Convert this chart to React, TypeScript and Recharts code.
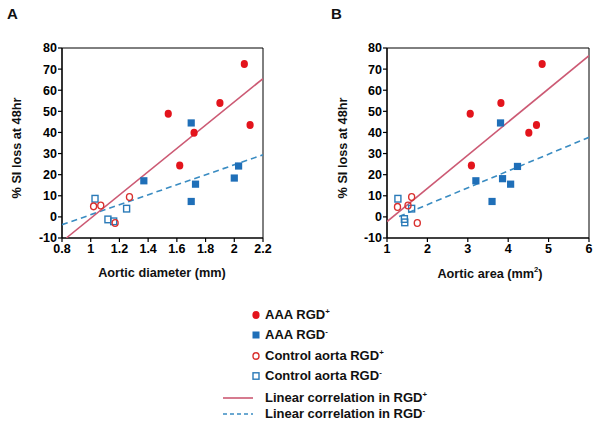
import React from 'react';
import {
  ScatterChart, Scatter, XAxis, YAxis, ReferenceLine,
} from 'recharts';

// Panel A: aortic diameter (mm) vs % SI loss
const aAaaPos = [
  { x: 1.54, y: 48.9 }, { x: 1.62, y: 24.4 }, { x: 1.72, y: 39.9 },
  { x: 1.90, y: 53.9 }, { x: 2.07, y: 72.4 }, { x: 2.11, y: 43.5 },
];
const aAaaNeg = [
  { x: 1.37, y: 17.1 }, { x: 1.70, y: 44.5 }, { x: 1.70, y: 7.3 },
  { x: 1.73, y: 15.5 }, { x: 2.00, y: 18.4 }, { x: 2.03, y: 24.1 },
];
const aCtrlPos = [
  { x: 1.02, y: 5.0 }, { x: 1.07, y: 5.4 }, { x: 1.17, y: -2.9 }, { x: 1.27, y: 9.4 },
];
const aCtrlNeg = [
  { x: 1.03, y: 8.6 }, { x: 1.12, y: -1.2 }, { x: 1.16, y: -2.1 }, { x: 1.25, y: 3.9 },
];
const aFitPos = [{ x: 0.83, y: -10 }, { x: 2.2, y: 65.5 }];
const aFitNeg = [{ x: 0.8, y: -3.7 }, { x: 2.2, y: 29.4 }];

// Panel B: aortic area (mm2) vs % SI loss
const bAaaPos = [
  { x: 3.06, y: 48.9 }, { x: 3.09, y: 24.4 }, { x: 3.82, y: 53.9 },
  { x: 4.51, y: 39.9 }, { x: 4.70, y: 43.5 }, { x: 4.84, y: 72.4 },
];
const bAaaNeg = [
  { x: 3.20, y: 17.1 }, { x: 3.60, y: 7.3 }, { x: 3.81, y: 44.5 },
  { x: 3.86, y: 18.1 }, { x: 4.06, y: 15.5 }, { x: 4.23, y: 23.9 },
];
const bCtrlPos = [
  { x: 1.26, y: 4.7 }, { x: 1.52, y: 5.4 }, { x: 1.61, y: 9.4 }, { x: 1.75, y: -2.9 },
];
const bCtrlNeg = [
  { x: 1.27, y: 8.6 }, { x: 1.43, y: -1.0 }, { x: 1.44, y: -2.6 }, { x: 1.61, y: 3.9 },
];
const bFitPos = [{ x: 1.0, y: -2.2 }, { x: 6.0, y: 76.4 }];
const bFitNeg = [{ x: 1.3, y: 0.2 }, { x: 6.0, y: 37.7 }];

const aTicks = [0.8, 1, 1.2, 1.4, 1.6, 1.8, 2, 2.2];
const bTicks = [1, 2, 3, 4, 5, 6];
const yTicks = [-10, 0, 10, 20, 30, 40, 50, 60, 70, 80];

const RED = '#e3141c';
const BLUE = '#1f6fb8';
const RED_LINE = '#cc5a74';
const BLUE_LINE = '#3a8cc2';
const FONT = '"Liberation Sans", Arial, sans-serif';

const FilledCircle = (p: any) => <ellipse cx={p.cx} cy={p.cy} rx={3.6} ry={4} fill={RED} />;
const FilledSquare = (p: any) => <rect x={p.cx - 3.6} y={p.cy - 3.6} width={7.2} height={7.2} fill={BLUE} />;
const OpenCircle = (p: any) => (
  <ellipse cx={p.cx} cy={p.cy} rx={3} ry={3.4} fill="none" stroke="#d9302e" strokeWidth={1.4} />
);
const OpenSquare = (p: any) => (
  <rect x={p.cx - 3} y={p.cy - 3.3} width={6} height={6.6} fill="none" stroke="#2a7ab8" strokeWidth={1.4} />
);
const NoDot = () => <g />;

const tickStyle = { fill: '#000', fontSize: 12.5, fontWeight: 'bold', fontFamily: FONT };

function Panel({ xDomain, xTicks, leftMargin, rightMargin, sets }: {
  xDomain: [number, number]; xTicks: number[]; leftMargin: number; rightMargin: number;
  sets: { aaaPos: any[]; aaaNeg: any[]; ctrlPos: any[]; ctrlNeg: any[]; fitPos: any[]; fitNeg: any[] };
}) {
  return (
    <ScatterChart width={300} height={260} margin={{ top: 48, right: rightMargin, bottom: 2, left: leftMargin }}>
      <XAxis type="number" dataKey="x" domain={xDomain} ticks={xTicks} allowDataOverflow
        tick={tickStyle} tickSize={4} height={20} interval={0}
        axisLine={{ stroke: '#000', strokeWidth: 1.6 }} tickLine={{ stroke: '#000', strokeWidth: 1.2 }} />
      <YAxis type="number" dataKey="y" domain={[-10, 80]} ticks={yTicks} allowDataOverflow
        tick={tickStyle} tickSize={4} tickMargin={1} width={40} interval={0}
        axisLine={{ stroke: '#000', strokeWidth: 1.6 }} tickLine={{ stroke: '#000', strokeWidth: 1.2 }} />
      <ReferenceLine y={80} stroke="#000" strokeWidth={1} />
      <ReferenceLine x={xDomain[1]} stroke="#000" strokeWidth={1} />
      <Scatter data={sets.fitNeg} fill={BLUE_LINE} shape={NoDot} isAnimationActive={false}
        line={{ stroke: BLUE_LINE, strokeWidth: 1.6, strokeDasharray: '6 4' }} />
      <Scatter data={sets.fitPos} fill={RED_LINE} shape={NoDot} isAnimationActive={false}
        line={{ stroke: RED_LINE, strokeWidth: 1.6 }} />
      <Scatter data={sets.ctrlNeg} shape={OpenSquare} isAnimationActive={false} />
      <Scatter data={sets.ctrlPos} shape={OpenCircle} isAnimationActive={false} />
      <Scatter data={sets.aaaNeg} shape={FilledSquare} isAnimationActive={false} />
      <Scatter data={sets.aaaPos} shape={FilledCircle} isAnimationActive={false} />
    </ScatterChart>
  );
}

const sup = { fontSize: '0.6em', verticalAlign: 'super' } as React.CSSProperties;

const legendRows = [
  { y: 315, marker: <ellipse cx={6} cy={6} rx={3.6} ry={4} fill={RED} />, label: 'AAA RGD', s: '+' },
  { y: 335, marker: <rect x={2.5} y={2.5} width={7} height={7} fill={BLUE} />, label: 'AAA RGD', s: '-' },
  { y: 356, marker: <ellipse cx={6} cy={6} rx={3} ry={3.3} fill="none" stroke="#d9302e" strokeWidth={1.4} />, label: 'Control aorta RGD', s: '+' },
  { y: 376, marker: <rect x={3} y={2.8} width={6} height={6.4} fill="none" stroke="#2a7ab8" strokeWidth={1.4} />, label: 'Control aorta RGD', s: '-' },
];

export default function App() {
  const label: React.CSSProperties = { position: 'absolute', fontWeight: 'bold', fontSize: 12.7, whiteSpace: 'nowrap', color: '#111' };
  return (
    <div style={{ position: 'absolute', left: 0, top: 0, width: 600, height: 425, background: '#fff', fontFamily: FONT }}>
      <div style={{ position: 'absolute', left: 0, top: 0 }}>
        <Panel xDomain={[0.8, 2.2]} xTicks={aTicks} leftMargin={22} rightMargin={37}
          sets={{ aaaPos: aAaaPos, aaaNeg: aAaaNeg, ctrlPos: aCtrlPos, ctrlNeg: aCtrlNeg, fitPos: aFitPos, fitNeg: aFitNeg }} />
      </div>
      <div style={{ position: 'absolute', left: 300, top: 0 }}>
        <Panel xDomain={[1, 6]} xTicks={bTicks} leftMargin={47} rightMargin={11}
          sets={{ aaaPos: bAaaPos, aaaNeg: bAaaNeg, ctrlPos: bCtrlPos, ctrlNeg: bCtrlNeg, fitPos: bFitPos, fitNeg: bFitNeg }} />
      </div>

      <div style={{ ...label, fontSize: 15, left: 7, top: 5 }}>A</div>
      <div style={{ ...label, fontSize: 15, left: 331, top: 5 }}>B</div>

      <div style={{ ...label, left: 17, top: 148, transform: 'translate(-50%, -50%) rotate(-90deg)' }}>% SI loss at 48hr</div>
      <div style={{ ...label, left: 343, top: 148, transform: 'translate(-50%, -50%) rotate(-90deg)' }}>% SI loss at 48hr</div>

      <div style={{ ...label, left: 162, top: 273, transform: 'translate(-50%, -50%)' }}>Aortic diameter (mm)</div>
      <div style={{ ...label, left: 490, top: 273, transform: 'translate(-50%, -50%)' }}>
        Aortic area (mm<span style={sup}>2</span>)
      </div>

      {legendRows.map((r, i) => (
        <div key={i} style={{ position: 'absolute', left: 250, top: r.y - 8, height: 16, display: 'flex', alignItems: 'center' }}>
          <svg width={12} height={12} style={{ marginRight: 3 }}>{r.marker}</svg>
          <span style={{ fontWeight: 'bold', fontSize: 13, color: '#111', whiteSpace: 'nowrap' }}>
            {r.label}<span style={sup}>{r.s}</span>
          </span>
        </div>
      ))}
      {[{ y: 398, dash: undefined, c: RED_LINE, s: '+' }, { y: 414, dash: '4 3', c: BLUE_LINE, s: '-' }].map((r, i) => (
        <div key={'l' + i} style={{ position: 'absolute', left: 222, top: r.y - 8, height: 16, display: 'flex', alignItems: 'center' }}>
          <svg width={32} height={6} style={{ marginRight: 11 }}>
            <line x1={1} y1={3} x2={31} y2={3} stroke={r.c} strokeWidth={1.6} strokeDasharray={r.dash} />
          </svg>
          <span style={{ fontWeight: 'bold', fontSize: 13, color: '#111', whiteSpace: 'nowrap' }}>
            Linear correlation in RGD<span style={sup}>{r.s}</span>
          </span>
        </div>
      ))}
    </div>
  );
}
